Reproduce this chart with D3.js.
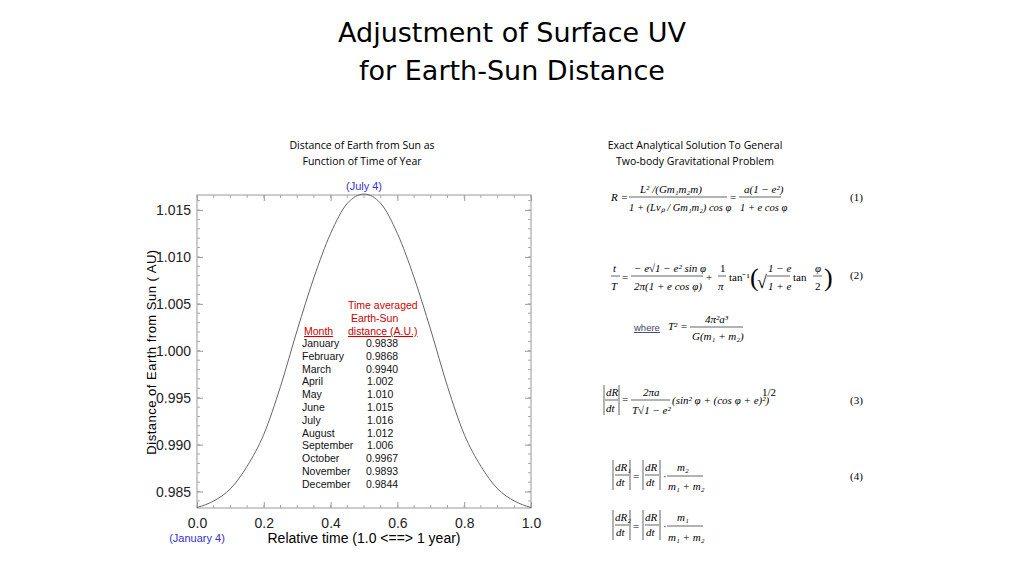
<!DOCTYPE html>
<head>
<meta charset="utf-8">
<style>
  body { margin: 0; background: #fff; }
  .eq { font-family: "Liberation Serif", serif; font-size: 11px; }
  .eq .i { font-style: italic; }
</style>
</head>
<body>
<svg id="chart" width="1024" height="576"></svg>
<script src="https://cdnjs.cloudflare.com/ajax/libs/d3/7.8.5/d3.min.js"></script>
<script>
// relative time and distance
const times = [0, 0.05, 0.1, 0.15, 0.2, 0.25, 0.3, 0.35, 0.4, 0.45, 0.5, 0.55, 0.6, 0.65, 0.7, 0.75, 0.8, 0.85, 0.9, 0.95, 1.0];
const dists = [0.9833, 0.9840, 0.9853, 0.9877, 0.9911, 0.9962, 1.0022, 1.0078, 1.0125, 1.0157, 1.0167, 1.0157, 1.0125, 1.0078, 1.0022, 0.9962, 0.9911, 0.9877, 0.9853, 0.9840, 0.9833];
const xTicks = [0, 0.2, 0.4, 0.6, 0.8, 1.0];
const yTicks = [0.985, 0.990, 0.995, 1.000, 1.005, 1.010, 1.015];
const months = ["January","February","March","April","May","June","July","August","September","October","November","December"];
const monthAvg = ["0.9838","0.9868","0.9940","1.002","1.010","1.015","1.016","1.012","1.006","0.9967","0.9893","0.9844"];

const svg = d3.select('#chart');
const x = d3.scaleLinear().domain([0, 1]).range([197, 531]);
const y = d3.scaleLinear().domain([0.98325, 1.0166]).range([508, 195]);

svg.append('text').attr('x', 512).attr('y', 42).attr('text-anchor', 'middle')
  .style('font-family', '"Comic Sans MS", "DejaVu Sans", sans-serif').style('font-size', '27px')
  .text('Adjustment of Surface UV');
svg.append('text').attr('x', 512).attr('y', 80).attr('text-anchor', 'middle')
  .style('font-family', '"Comic Sans MS", "DejaVu Sans", sans-serif').style('font-size', '27px')
  .text('for Earth-Sun Distance');

const sub = (t, cx, cy) => svg.append('text').attr('x', cx).attr('y', cy).attr('text-anchor', 'middle')
  .style('font-family', '"Open Sans", sans-serif').style('font-size', '10.5px').text(t);
sub('Distance of Earth from Sun as', 362, 149);
sub('Function of Time of Year', 362, 165);
sub('Exact Analytical Solution To General', 695, 149);
sub('Two-body Gravitational Problem', 695, 165);

// frame
svg.append('rect').attr('x', 197).attr('y', 195).attr('width', 334).attr('height', 313)
  .attr('fill', 'none').attr('stroke', '#999');

const axisFont = g => g.selectAll('text').style('font-family', '"Liberation Sans", Arial, sans-serif')
  .style('font-size', '14px').attr('fill', '#222');
svg.append('g').attr('transform', 'translate(0,508)')
  .call(d3.axisBottom(x).tickValues(xTicks).tickFormat(d3.format('.1f')).tickSize(-6).tickPadding(10))
  .call(g => g.select('.domain').remove())
  .call(g => g.selectAll('line').attr('stroke', '#999'))
  .call(axisFont);
svg.append('g').attr('transform', 'translate(0,195)')
  .call(d3.axisTop(x).tickValues(xTicks).tickFormat('').tickSize(-6))
  .call(g => g.select('.domain').remove()).call(g => g.selectAll('line').attr('stroke', '#999'));
svg.append('g').attr('transform', 'translate(197,0)')
  .call(d3.axisLeft(y).tickValues(yTicks).tickFormat(d3.format('.3f')).tickSize(-6).tickPadding(6))
  .call(g => g.select('.domain').remove())
  .call(g => g.selectAll('line').attr('stroke', '#999'))
  .call(axisFont);
svg.append('g').attr('transform', 'translate(531,0)')
  .call(d3.axisRight(y).tickValues(yTicks).tickFormat('').tickSize(-6))
  .call(g => g.select('.domain').remove()).call(g => g.selectAll('line').attr('stroke', '#999'));
// minor ticks
const minorX = d3.range(0, 1.0001, 0.05);
const minorY = d3.range(0.984, 1.0165, 0.001);
const mg = svg.append('g').attr('stroke', '#aaa');
minorX.forEach(v => { mg.append('line').attr('x1', x(v)).attr('x2', x(v)).attr('y1', 508).attr('y2', 505);
  mg.append('line').attr('x1', x(v)).attr('x2', x(v)).attr('y1', 195).attr('y2', 198); });
minorY.forEach(v => { mg.append('line').attr('x1', 197).attr('x2', 200).attr('y1', y(v)).attr('y2', y(v));
  mg.append('line').attr('x1', 531).attr('x2', 528).attr('y1', y(v)).attr('y2', y(v)); });

svg.append('path').datum(times.map((t, i) => [t, dists[i]]))
  .attr('d', d3.line().x(d => x(d[0])).y(d => y(d[1])).curve(d3.curveMonotoneX))
  .attr('fill', 'none').attr('stroke', '#666').attr('stroke-width', 1);

svg.append('text').attr('x', 364).attr('y', 543).attr('text-anchor', 'middle')
  .style('font-family', '"Liberation Sans", Arial, sans-serif').style('font-size', '14px')
  .text('Relative time (1.0 <==> 1 year)');
svg.append('text').attr('transform', 'translate(156,352) rotate(-90)').attr('text-anchor', 'middle')
  .style('font-family', '"Liberation Sans", Arial, sans-serif').style('font-size', '13px')
  .attr('letter-spacing', 0.5).text('Distance of Earth from Sun   ( AU)');
svg.append('text').attr('x', 364).attr('y', 190).attr('text-anchor', 'middle').attr('fill', '#3333cc')
  .style('font-family', '"Liberation Sans", Arial, sans-serif').style('font-size', '11px').text('(July 4)');
svg.append('text').attr('x', 197).attr('y', 542).attr('text-anchor', 'middle').attr('fill', '#3333cc')
  .style('font-family', '"Liberation Sans", Arial, sans-serif').style('font-size', '11px').text('(January 4)');

// month table
const tf = { 'font-family': '"Liberation Sans", Arial, sans-serif', 'font-size': '10.5px' };
const tt = (t, tx, ty, col, ul) => { const e = svg.append('text').attr('x', tx).attr('y', ty).attr('fill', col || '#111').text(t);
  Object.entries(tf).forEach(([k, v]) => e.style(k, v)); if (ul) e.style('text-decoration', 'underline'); return e; };
tt('Time averaged', 348, 309, '#c00');
tt('Earth-Sun', 351, 322, '#c00');
tt('Month ', 304, 335, '#c00', true);
tt('distance (A.U.)', 348, 335, '#c00', true);
months.forEach((m, i) => {
  tt(m, 302, 347 + i * 12.8);
  tt(monthAvg[i], monthAvg[i].length > 5 ? 366 : 367, 347 + i * 12.8);
});

// equations
const eq = svg.append('g').attr('class', 'eq');
const T = (s, tx, ty, it, size) => eq.append('text').attr('x', tx).attr('y', ty).attr('class', it ? 'i' : null)
  .style('font-size', (size || 11) + 'px').text(s);
const bar = (x1, x2, yy) => eq.append('line').attr('x1', x1).attr('x2', x2).attr('y1', yy).attr('y2', yy).attr('stroke', '#222').attr('stroke-width', 0.7);
const vbar = (xx, y1, y2) => eq.append('line').attr('x1', xx).attr('x2', xx).attr('y1', y1).attr('y2', y2).attr('stroke', '#222').attr('stroke-width', 0.7);
// (1)
T('R =', 611, 201, true);
T('L² /(Gm₁m₂m)', 640, 193, true); bar(629, 727, 197);
T('1 + (Lvₚ / Gm₁m₂) cos φ', 629, 211, true, 10.5);
T('=', 730, 201);
T('a(1 − e²)', 744, 193, true); bar(739, 781, 197);
T('1 + e cos φ', 740, 211, true, 10.5);
T('(1)', 850, 201);
// (2)
T('t', 613, 272, true); bar(611, 620, 276); T('T', 611, 290, true);
T('=', 622, 281);
T('− e√1 − e² sin φ', 634, 272, true); bar(631, 703, 276);
T('2π(1 + e cos φ)', 634, 290, true);
T('+', 706, 281);
T('1', 720, 272); bar(718, 726, 276); T('π', 718, 290, true);
T('tan⁻¹', 729, 281);
T('(', 750, 286, false, 26);
T('√', 757, 288, false, 18);
T('1 − e', 768, 272, true); bar(767, 790, 276); T('1 + e', 768, 290, true);
T('tan', 793, 281);
T('φ', 815, 272, true); bar(813, 822, 276); T('2', 815, 290);
T(')', 824, 286, false, 26);
T('(2)', 850, 279);
// where
eq.append('text').attr('x', 634).attr('y', 331).attr('fill', '#446').style('font-family', '"Liberation Sans", sans-serif')
  .style('font-size', '9.5px').style('text-decoration', 'underline').style('text-decoration-color', '#6a6').text('where');
T('T² =', 668, 330, true);
T('4π²a³', 705, 323, true); bar(690, 743, 327); T('G(m₁ + m₂)', 692, 340, true);
// (3)
vbar(604, 385, 415); vbar(619, 385, 415);
T('dR', 606, 396, true); bar(605, 618, 400); T('dt', 606, 412, true);
T('=', 622, 403);
T('2πa', 643, 396, true); bar(631, 670, 400); T('T√1 − e²', 632, 414, true);
T('(sin² φ + (cos φ + e)²)', 672, 404, true);
T('1/2', 762, 396);
T('(3)', 850, 404);
// (4)
const dr = (x0, y0, s) => { vbar(x0, y0 - 12, y0 + 18); vbar(x0 + 17, y0 - 12, y0 + 18);
  T('dR' + s, x0 + 2, y0 - 1, true); bar(x0 + 2, x0 + 16, y0 + 3); T('dt', x0 + 3, y0 + 14, true); };
dr(613, 472, '₁'); T('=', 633, 480); dr(643, 472, ''); T('·', 663, 480);
T('m₂', 677, 471, true); bar(667, 703, 476); T('m₁ + m₂', 668, 490, true);
T('(4)', 850, 480);
dr(613, 522, '₂'); T('=', 633, 530); dr(643, 522, ''); T('·', 663, 530);
T('m₁', 677, 521, true); bar(667, 703, 526); T('m₁ + m₂', 668, 541, true);
</script>
</body>
</html>
